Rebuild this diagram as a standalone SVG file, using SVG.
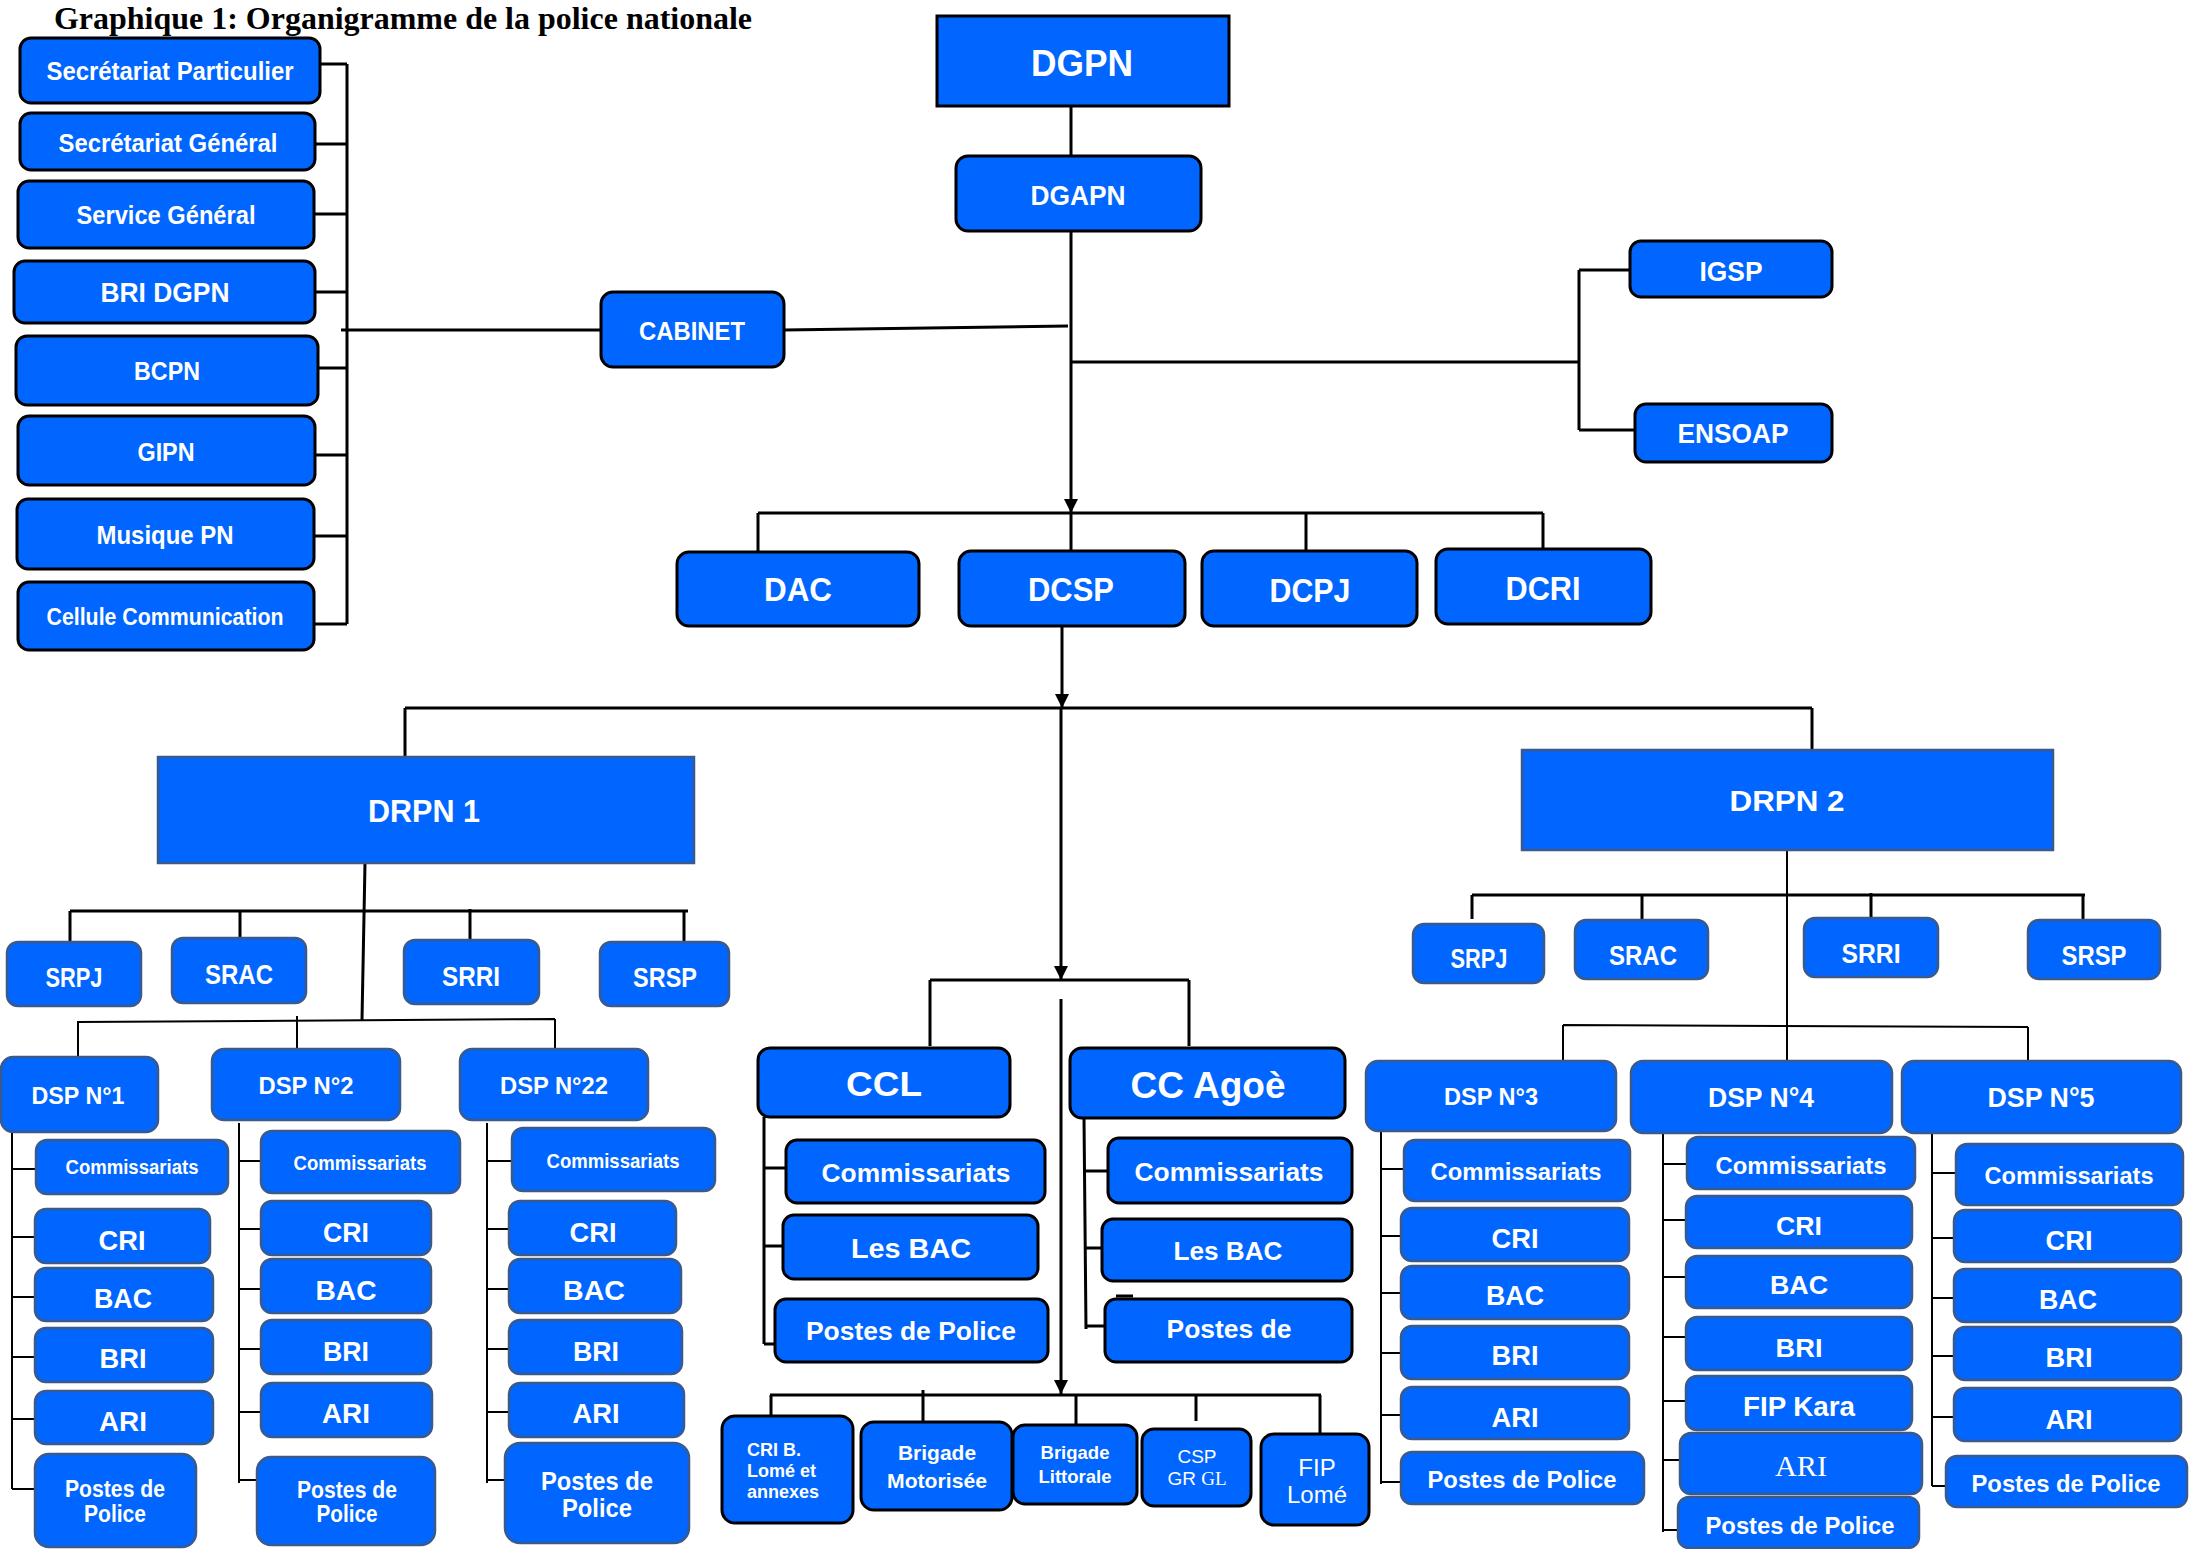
<svg xmlns="http://www.w3.org/2000/svg" width="2190" height="1549" viewBox="0 0 2190 1549">
<defs>
<style>
.b{fill:#0066FF;stroke:#000;stroke-width:3}
.s{fill:#0066FF;stroke:#3A5A8C;stroke-width:2.5}
.t{font-family:"Liberation Sans",Arial,sans-serif;font-weight:bold;fill:#fff;text-anchor:middle}
.n{font-family:"Liberation Sans",Arial,sans-serif;font-weight:normal;fill:#fff;text-anchor:middle}
.c{stroke:#000;stroke-width:3;fill:none}
.d{stroke:#000;stroke-width:2;fill:none}
.title{font-family:"Liberation Serif","Times New Roman",serif;font-weight:bold;fill:#000}
</style>
<marker id="arr" viewBox="0 0 10 10" refX="10" refY="5" markerWidth="14" markerHeight="14" markerUnits="userSpaceOnUse" orient="auto">
<path d="M0,0 L10,5 L0,10 z" fill="#000"/>
</marker>
</defs>
<rect width="2190" height="1549" fill="#fff"/>
<text class="title" x="54" y="29" font-size="31" textLength="698" lengthAdjust="spacingAndGlyphs">Graphique 1: Organigramme de la police nationale</text>

<g id="connectors">
<!-- left bracket -->
<path class="c" d="M347,64 V624 M320,64 H347 M315,144 H347 M314,214 H347 M315,292 H347 M319,368 H347 M315,455 H347 M314,536 H347 M314,624 H347"/>
<path class="c" d="M341,330 L601,330 M784,330 L1068,326"/>
<path class="c" d="M1071,106 V156"/>
<path class="c" d="M1071,231 V513" marker-end="url(#arr)"/>
<path class="c" d="M1071,362 H1579 M1579,270 V430 M1579,270 H1630 M1579,430 H1635"/>
<path class="c" d="M758,513 H1543 M758,513 V552 M1071,513 V551 M1306,513 V551 M1543,513 V549"/>
<path class="c" d="M1062,626 V708" marker-end="url(#arr)"/>
<path class="c" d="M405,708 H1812 M405,708 V757 M1812,708 V750"/>
<!-- DRPN 1 -->
<path class="c" d="M365,863 L362,1020"/>
<path class="c" d="M70,911 H688 M70,911 V942 M240,911 V938 M470,909 V940 M684,911 V942"/>
<path class="d" d="M77,1022 L555,1019 M78,1022 V1058 M297,1016 V1050 M555,1019 V1049"/>
<path class="d" d="M12,1132 V1489 M12,1169 H36 M12,1237 H35 M12,1297 H35 M12,1357 H35 M12,1419 H35 M12,1489 H35"/>
<path class="d" d="M239,1123 V1483 M239,1161 H261 M239,1229 H261 M239,1289 H261 M239,1349 H261 M239,1412 H261 M239,1480 H257"/>
<path class="d" d="M487,1123 V1483 M487,1161 H512 M487,1229 H509 M487,1289 H509 M487,1349 H509 M487,1412 H509 M487,1480 H505"/>
<!-- centre -->
<path class="c" d="M1061,708 V980" marker-end="url(#arr)"/>
<path class="c" d="M930,980 H1189 M930,980 V1046 M1189,980 V1046"/>
<path class="c" d="M1061,999 V1394" marker-end="url(#arr)"/>
<path class="c" d="M770,1395 H1321 M771,1395 V1416 M923,1390 V1422 M1076,1395 V1425 M1196,1395 V1421 M1320,1395 V1434"/>
<path class="c" d="M764,1117 V1344 M764,1168 H786 M764,1246 H783 M764,1344 H781"/>
<path class="c" d="M1084,1118 L1086,1329 M1084,1171 H1108 M1084,1248 H1102 M1086,1326 H1105"/>
<path class="c" d="M1116,1296 H1133 M1118,1356 H1135"/>
<path stroke="#000" stroke-width="4" d="M1122,1301 H1139"/>
<!-- DRPN 2 -->
<path class="d" d="M1787,850 V1061"/>
<path class="c" d="M1472,895 H2085 M1472,895 V919 M1642,895 V920 M1871,893 V918 M2083,895 V920"/>
<path class="d" d="M1563,1025 L2028,1027 M1563,1025 V1061 M2028,1027 V1061"/>
<path class="d" d="M1381,1131 V1484 M1381,1169 H1404 M1381,1236 H1401 M1381,1293 H1401 M1381,1353 H1401 M1381,1415 H1401 M1381,1482 H1401"/>
<path class="d" d="M1663,1127 V1532 M1663,1164 H1687 M1663,1220 H1686 M1663,1277 H1686 M1663,1337 H1686 M1663,1401 H1686 M1663,1460 H1680 M1663,1530 H1678"/>
<path class="d" d="M1932,1133 V1486 M1932,1173 H1956 M1932,1238 H1954 M1932,1298 H1954 M1932,1356 H1954 M1932,1417 H1954 M1932,1486 H1946"/>
</g>

<!-- left column -->
<g id="sec-part"><rect class="b" x="20" y="38" width="300" height="65" rx="11"/><text class="t" x="170" y="80" font-size="26" textLength="247" lengthAdjust="spacingAndGlyphs">Secrétariat Particulier</text></g>
<g id="sec-gen"><rect class="b" x="20" y="113" width="295" height="57" rx="11"/><text class="t" x="168" y="152" font-size="26" textLength="219" lengthAdjust="spacingAndGlyphs">Secrétariat Général</text></g>
<g id="serv-gen"><rect class="b" x="18" y="181" width="296" height="67" rx="11"/><text class="t" x="166" y="224" font-size="26" textLength="179" lengthAdjust="spacingAndGlyphs">Service Général</text></g>
<g id="bri-dgpn"><rect class="b" x="14" y="261" width="301" height="62" rx="11"/><text class="t" x="165" y="302" font-size="28" textLength="129" lengthAdjust="spacingAndGlyphs">BRI DGPN</text></g>
<g id="bcpn"><rect class="b" x="16" y="336" width="302" height="69" rx="11"/><text class="t" x="167" y="380" font-size="26" textLength="66" lengthAdjust="spacingAndGlyphs">BCPN</text></g>
<g id="gipn"><rect class="b" x="18" y="416" width="297" height="69" rx="11"/><text class="t" x="166" y="461" font-size="26" textLength="57" lengthAdjust="spacingAndGlyphs">GIPN</text></g>
<g id="musique"><rect class="b" x="17" y="499" width="297" height="70" rx="11"/><text class="t" x="165" y="544" font-size="26" textLength="137" lengthAdjust="spacingAndGlyphs">Musique PN</text></g>
<g id="cellule"><rect class="b" x="18" y="582" width="296" height="68" rx="11"/><text class="t" x="165" y="625" font-size="24" textLength="237" lengthAdjust="spacingAndGlyphs">Cellule Communication</text></g>

<g id="cabinet"><rect class="b" x="601" y="292" width="183" height="75" rx="12"/><text class="t" x="692" y="340" font-size="26" textLength="106" lengthAdjust="spacingAndGlyphs">CABINET</text></g>
<g id="dgpn"><rect class="b" x="937" y="16" width="292" height="90"/><text class="t" x="1082" y="76" font-size="36" textLength="102" lengthAdjust="spacingAndGlyphs">DGPN</text></g>
<g id="dgapn"><rect class="b" x="956" y="156" width="245" height="75" rx="12"/><text class="t" x="1078" y="205" font-size="27" textLength="95" lengthAdjust="spacingAndGlyphs">DGAPN</text></g>
<g id="igsp"><rect class="b" x="1630" y="241" width="202" height="56" rx="11"/><text class="t" x="1731" y="281" font-size="27" textLength="63" lengthAdjust="spacingAndGlyphs">IGSP</text></g>
<g id="ensoap"><rect class="b" x="1635" y="404" width="197" height="58" rx="11"/><text class="t" x="1733" y="443" font-size="27" textLength="111" lengthAdjust="spacingAndGlyphs">ENSOAP</text></g>

<g id="dac"><rect class="b" x="677" y="552" width="242" height="74" rx="12"/><text class="t" x="798" y="601" font-size="33" textLength="68" lengthAdjust="spacingAndGlyphs">DAC</text></g>
<g id="dcsp"><rect class="b" x="959" y="551" width="226" height="75" rx="12"/><text class="t" x="1071" y="601" font-size="33" textLength="86" lengthAdjust="spacingAndGlyphs">DCSP</text></g>
<g id="dcpj"><rect class="b" x="1202" y="551" width="215" height="75" rx="12"/><text class="t" x="1310" y="602" font-size="33" textLength="81" lengthAdjust="spacingAndGlyphs">DCPJ</text></g>
<g id="dcri"><rect class="b" x="1436" y="549" width="215" height="75" rx="12"/><text class="t" x="1543" y="600" font-size="33" textLength="75" lengthAdjust="spacingAndGlyphs">DCRI</text></g>

<!-- DRPN 1 -->
<g id="drpn1"><rect class="s" x="158" y="757" width="536" height="106"/><text class="t" x="424" y="822" font-size="32" textLength="112" lengthAdjust="spacingAndGlyphs">DRPN 1</text></g>
<g id="srpj1"><rect class="s" x="7" y="942" width="134" height="64" rx="11"/><text class="t" x="74" y="987" font-size="28" textLength="57" lengthAdjust="spacingAndGlyphs">SRPJ</text></g>
<g id="srac1"><rect class="s" x="172" y="938" width="134" height="65" rx="11"/><text class="t" x="239" y="984" font-size="28" textLength="68" lengthAdjust="spacingAndGlyphs">SRAC</text></g>
<g id="srri1"><rect class="s" x="404" y="940" width="135" height="64" rx="11"/><text class="t" x="471" y="986" font-size="28" textLength="58" lengthAdjust="spacingAndGlyphs">SRRI</text></g>
<g id="srsp1"><rect class="s" x="600" y="942" width="129" height="64" rx="11"/><text class="t" x="665" y="987" font-size="28" textLength="64" lengthAdjust="spacingAndGlyphs">SRSP</text></g>
<g id="dsp1"><rect class="s" x="1" y="1057" width="157" height="75" rx="12"/><text class="t" x="78" y="1104" font-size="24" textLength="93" lengthAdjust="spacingAndGlyphs">DSP N°1</text></g>
<g id="dsp2"><rect class="s" x="212" y="1049" width="188" height="71" rx="12"/><text class="t" x="306" y="1094" font-size="24" textLength="95" lengthAdjust="spacingAndGlyphs">DSP N°2</text></g>
<g id="dsp22"><rect class="s" x="460" y="1049" width="188" height="71" rx="12"/><text class="t" x="554" y="1094" font-size="24" textLength="108" lengthAdjust="spacingAndGlyphs">DSP N°22</text></g>

<g id="dsp1-comm"><rect class="s" x="36" y="1140" width="192" height="54" rx="11"/><text class="t" x="132" y="1174" font-size="20" textLength="133" lengthAdjust="spacingAndGlyphs">Commissariats</text></g>
<g id="dsp1-cri"><rect class="s" x="35" y="1209" width="175" height="54" rx="11"/><text class="t" x="122" y="1250" font-size="28" textLength="47" lengthAdjust="spacingAndGlyphs">CRI</text></g>
<g id="dsp1-bac"><rect class="s" x="35" y="1268" width="178" height="53" rx="11"/><text class="t" x="123" y="1308" font-size="28" textLength="58" lengthAdjust="spacingAndGlyphs">BAC</text></g>
<g id="dsp1-bri"><rect class="s" x="35" y="1328" width="178" height="54" rx="11"/><text class="t" x="123" y="1368" font-size="28" textLength="47" lengthAdjust="spacingAndGlyphs">BRI</text></g>
<g id="dsp1-ari"><rect class="s" x="35" y="1391" width="178" height="53" rx="11"/><text class="t" x="123" y="1431" font-size="28" textLength="48" lengthAdjust="spacingAndGlyphs">ARI</text></g>
<g id="dsp1-postes"><rect class="s" x="35" y="1454" width="161" height="93" rx="14"/><text class="t" x="115" y="1497" font-size="23" textLength="100" lengthAdjust="spacingAndGlyphs">Postes de</text><text class="t" x="115" y="1522" font-size="23" textLength="62" lengthAdjust="spacingAndGlyphs">Police</text></g>

<g id="dsp2-comm"><rect class="s" x="261" y="1131" width="199" height="62" rx="11"/><text class="t" x="360" y="1170" font-size="21" textLength="133" lengthAdjust="spacingAndGlyphs">Commissariats</text></g>
<g id="dsp2-cri"><rect class="s" x="261" y="1201" width="170" height="54" rx="11"/><text class="t" x="346" y="1242" font-size="28" textLength="46" lengthAdjust="spacingAndGlyphs">CRI</text></g>
<g id="dsp2-bac"><rect class="s" x="261" y="1259" width="170" height="54" rx="11"/><text class="t" x="346" y="1300" font-size="28" textLength="61" lengthAdjust="spacingAndGlyphs">BAC</text></g>
<g id="dsp2-bri"><rect class="s" x="261" y="1320" width="170" height="54" rx="11"/><text class="t" x="346" y="1361" font-size="28" textLength="46" lengthAdjust="spacingAndGlyphs">BRI</text></g>
<g id="dsp2-ari"><rect class="s" x="261" y="1383" width="171" height="54" rx="11"/><text class="t" x="346" y="1423" font-size="28" textLength="48" lengthAdjust="spacingAndGlyphs">ARI</text></g>
<g id="dsp2-postes"><rect class="s" x="257" y="1457" width="178" height="88" rx="14"/><text class="t" x="347" y="1498" font-size="23" textLength="100" lengthAdjust="spacingAndGlyphs">Postes de</text><text class="t" x="347" y="1522" font-size="23" textLength="61" lengthAdjust="spacingAndGlyphs">Police</text></g>

<g id="dsp22-comm"><rect class="s" x="512" y="1128" width="203" height="63" rx="11"/><text class="t" x="613" y="1168" font-size="21" textLength="133" lengthAdjust="spacingAndGlyphs">Commissariats</text></g>
<g id="dsp22-cri"><rect class="s" x="509" y="1201" width="167" height="54" rx="11"/><text class="t" x="593" y="1242" font-size="28" textLength="47" lengthAdjust="spacingAndGlyphs">CRI</text></g>
<g id="dsp22-bac"><rect class="s" x="509" y="1259" width="172" height="54" rx="11"/><text class="t" x="594" y="1300" font-size="28" textLength="62" lengthAdjust="spacingAndGlyphs">BAC</text></g>
<g id="dsp22-bri"><rect class="s" x="509" y="1320" width="173" height="54" rx="11"/><text class="t" x="596" y="1361" font-size="28" textLength="46" lengthAdjust="spacingAndGlyphs">BRI</text></g>
<g id="dsp22-ari"><rect class="s" x="509" y="1383" width="175" height="54" rx="11"/><text class="t" x="596" y="1423" font-size="28" textLength="47" lengthAdjust="spacingAndGlyphs">ARI</text></g>
<g id="dsp22-postes"><rect class="s" x="505" y="1443" width="184" height="100" rx="15"/><text class="t" x="597" y="1490" font-size="26" textLength="112" lengthAdjust="spacingAndGlyphs">Postes de</text><text class="t" x="597" y="1517" font-size="26" textLength="70" lengthAdjust="spacingAndGlyphs">Police</text></g>

<!-- centre -->
<g id="ccl"><rect class="b" x="758" y="1048" width="252" height="69" rx="12"/><text class="t" x="884" y="1096" font-size="35" textLength="76" lengthAdjust="spacingAndGlyphs">CCL</text></g>
<g id="ccl-comm"><rect class="b" x="786" y="1140" width="259" height="63" rx="11"/><text class="t" x="916" y="1182" font-size="26" textLength="189" lengthAdjust="spacingAndGlyphs">Commissariats</text></g>
<g id="ccl-bac"><rect class="b" x="783" y="1215" width="255" height="64" rx="11"/><text class="t" x="911" y="1258" font-size="28" textLength="120" lengthAdjust="spacingAndGlyphs">Les BAC</text></g>
<g id="ccl-postes"><rect class="b" x="775" y="1299" width="273" height="63" rx="11"/><text class="t" x="911" y="1340" font-size="26" textLength="210" lengthAdjust="spacingAndGlyphs">Postes de Police</text></g>

<g id="ccagoe"><rect class="b" x="1070" y="1048" width="275" height="70" rx="12"/><text class="t" x="1208" y="1098" font-size="36" textLength="155" lengthAdjust="spacingAndGlyphs">CC Agoè</text></g>
<g id="cca-comm"><rect class="b" x="1108" y="1138" width="244" height="65" rx="11"/><text class="t" x="1229" y="1181" font-size="26" textLength="189" lengthAdjust="spacingAndGlyphs">Commissariats</text></g>
<g id="cca-bac"><rect class="b" x="1102" y="1219" width="250" height="62" rx="11"/><text class="t" x="1228" y="1260" font-size="26" textLength="109" lengthAdjust="spacingAndGlyphs">Les BAC</text></g>
<g id="cca-postes"><rect class="b" x="1105" y="1299" width="247" height="63" rx="11"/><text class="t" x="1229" y="1338" font-size="26" textLength="125" lengthAdjust="spacingAndGlyphs">Postes de</text></g>

<g id="crib"><rect class="b" x="722" y="1416" width="131" height="107" rx="13"/><text class="t" x="747" y="1456" font-size="18" text-anchor="start" style="text-anchor:start">CRI B.</text><text class="t" x="747" y="1477" font-size="18" style="text-anchor:start">Lomé et</text><text class="t" x="747" y="1498" font-size="18" style="text-anchor:start">annexes</text></g>
<g id="brig-mot"><rect class="b" x="861" y="1422" width="151" height="88" rx="13"/><text class="t" x="937" y="1460" font-size="21">Brigade</text><text class="t" x="937" y="1488" font-size="21" textLength="100" lengthAdjust="spacingAndGlyphs">Motorisée</text></g>
<g id="brig-lit"><rect class="b" x="1013" y="1425" width="124" height="79" rx="12"/><text class="t" x="1075" y="1459" font-size="18.5">Brigade</text><text class="t" x="1075" y="1483" font-size="18.5">Littorale</text></g>
<g id="csp"><rect class="b" x="1142" y="1429" width="109" height="77" rx="12"/><text class="n" x="1197" y="1463" font-size="19">CSP</text><text class="n" x="1197" y="1485" font-size="19">GR <tspan style="font-family:'Liberation Serif',serif">GL</tspan></text></g>
<g id="fip-lome"><rect class="b" x="1261" y="1434" width="108" height="91" rx="13"/><text class="n" x="1317" y="1476" font-size="24">FIP</text><text class="n" x="1317" y="1503" font-size="24">Lomé</text></g>

<!-- DRPN 2 -->
<g id="drpn2"><rect class="s" x="1522" y="750" width="531" height="100"/><text class="t" x="1787" y="811" font-size="30" textLength="115" lengthAdjust="spacingAndGlyphs">DRPN 2</text></g>
<g id="srpj2"><rect class="s" x="1413" y="924" width="131" height="59" rx="11"/><text class="t" x="1479" y="968" font-size="27" textLength="57" lengthAdjust="spacingAndGlyphs">SRPJ</text></g>
<g id="srac2"><rect class="s" x="1575" y="920" width="133" height="59" rx="11"/><text class="t" x="1643" y="965" font-size="27" textLength="68" lengthAdjust="spacingAndGlyphs">SRAC</text></g>
<g id="srri2"><rect class="s" x="1804" y="918" width="134" height="59" rx="11"/><text class="t" x="1871" y="963" font-size="27" textLength="59" lengthAdjust="spacingAndGlyphs">SRRI</text></g>
<g id="srsp2"><rect class="s" x="2028" y="920" width="132" height="59" rx="11"/><text class="t" x="2094" y="965" font-size="27" textLength="65" lengthAdjust="spacingAndGlyphs">SRSP</text></g>
<g id="dsp3"><rect class="s" x="1366" y="1061" width="250" height="70" rx="12"/><text class="t" x="1491" y="1105" font-size="24" textLength="94" lengthAdjust="spacingAndGlyphs">DSP N°3</text></g>
<g id="dsp4"><rect class="s" x="1631" y="1061" width="261" height="72" rx="12"/><text class="t" x="1761" y="1107" font-size="27" textLength="106" lengthAdjust="spacingAndGlyphs">DSP N°4</text></g>
<g id="dsp5"><rect class="s" x="1902" y="1061" width="279" height="72" rx="12"/><text class="t" x="2041" y="1107" font-size="27" textLength="107" lengthAdjust="spacingAndGlyphs">DSP N°5</text></g>

<g id="dsp3-comm"><rect class="s" x="1404" y="1140" width="226" height="61" rx="11"/><text class="t" x="1516" y="1180" font-size="23" textLength="171" lengthAdjust="spacingAndGlyphs">Commissariats</text></g>
<g id="dsp3-cri"><rect class="s" x="1401" y="1208" width="228" height="53" rx="11"/><text class="t" x="1515" y="1248" font-size="27" textLength="47" lengthAdjust="spacingAndGlyphs">CRI</text></g>
<g id="dsp3-bac"><rect class="s" x="1401" y="1266" width="228" height="53" rx="11"/><text class="t" x="1515" y="1305" font-size="27" textLength="58" lengthAdjust="spacingAndGlyphs">BAC</text></g>
<g id="dsp3-bri"><rect class="s" x="1401" y="1326" width="228" height="53" rx="11"/><text class="t" x="1515" y="1365" font-size="27" textLength="47" lengthAdjust="spacingAndGlyphs">BRI</text></g>
<g id="dsp3-ari"><rect class="s" x="1401" y="1387" width="228" height="52" rx="11"/><text class="t" x="1515" y="1427" font-size="27" textLength="47" lengthAdjust="spacingAndGlyphs">ARI</text></g>
<g id="dsp3-postes"><rect class="s" x="1401" y="1452" width="243" height="52" rx="11"/><text class="t" x="1522" y="1488" font-size="23" textLength="189" lengthAdjust="spacingAndGlyphs">Postes de Police</text></g>

<g id="dsp4-comm"><rect class="s" x="1687" y="1137" width="228" height="52" rx="11"/><text class="t" x="1801" y="1174" font-size="23" textLength="171" lengthAdjust="spacingAndGlyphs">Commissariats</text></g>
<g id="dsp4-cri"><rect class="s" x="1686" y="1196" width="226" height="52" rx="11"/><text class="t" x="1799" y="1235" font-size="26" textLength="46" lengthAdjust="spacingAndGlyphs">CRI</text></g>
<g id="dsp4-bac"><rect class="s" x="1686" y="1256" width="226" height="52" rx="11"/><text class="t" x="1799" y="1294" font-size="26" textLength="58" lengthAdjust="spacingAndGlyphs">BAC</text></g>
<g id="dsp4-bri"><rect class="s" x="1686" y="1317" width="226" height="53" rx="11"/><text class="t" x="1799" y="1357" font-size="26" textLength="47" lengthAdjust="spacingAndGlyphs">BRI</text></g>
<g id="dsp4-fip"><rect class="s" x="1686" y="1376" width="226" height="54" rx="11"/><text class="t" x="1799" y="1416" font-size="27" textLength="112" lengthAdjust="spacingAndGlyphs">FIP Kara</text></g>
<g id="dsp4-ari"><rect class="s" x="1680" y="1433" width="242" height="61" rx="11"/><text x="1801" y="1476" font-size="29" textLength="52" lengthAdjust="spacingAndGlyphs" style="font-family:'Liberation Serif','Times New Roman',serif;fill:#fff;text-anchor:middle">ARI</text></g>
<g id="dsp4-postes"><rect class="s" x="1678" y="1497" width="241" height="51" rx="11"/><text class="t" x="1800" y="1534" font-size="23" textLength="189" lengthAdjust="spacingAndGlyphs">Postes de Police</text></g>

<g id="dsp5-comm"><rect class="s" x="1956" y="1144" width="227" height="61" rx="11"/><text class="t" x="2069" y="1184" font-size="23" textLength="169" lengthAdjust="spacingAndGlyphs">Commissariats</text></g>
<g id="dsp5-cri"><rect class="s" x="1954" y="1210" width="227" height="52" rx="11"/><text class="t" x="2069" y="1250" font-size="27" textLength="47" lengthAdjust="spacingAndGlyphs">CRI</text></g>
<g id="dsp5-bac"><rect class="s" x="1954" y="1269" width="227" height="53" rx="11"/><text class="t" x="2068" y="1309" font-size="27" textLength="58" lengthAdjust="spacingAndGlyphs">BAC</text></g>
<g id="dsp5-bri"><rect class="s" x="1954" y="1327" width="227" height="53" rx="11"/><text class="t" x="2069" y="1367" font-size="27" textLength="47" lengthAdjust="spacingAndGlyphs">BRI</text></g>
<g id="dsp5-ari"><rect class="s" x="1954" y="1388" width="227" height="53" rx="11"/><text class="t" x="2069" y="1429" font-size="27" textLength="47" lengthAdjust="spacingAndGlyphs">ARI</text></g>
<g id="dsp5-postes"><rect class="s" x="1946" y="1456" width="241" height="51" rx="11"/><text class="t" x="2066" y="1492" font-size="23" textLength="189" lengthAdjust="spacingAndGlyphs">Postes de Police</text></g>
</svg>
